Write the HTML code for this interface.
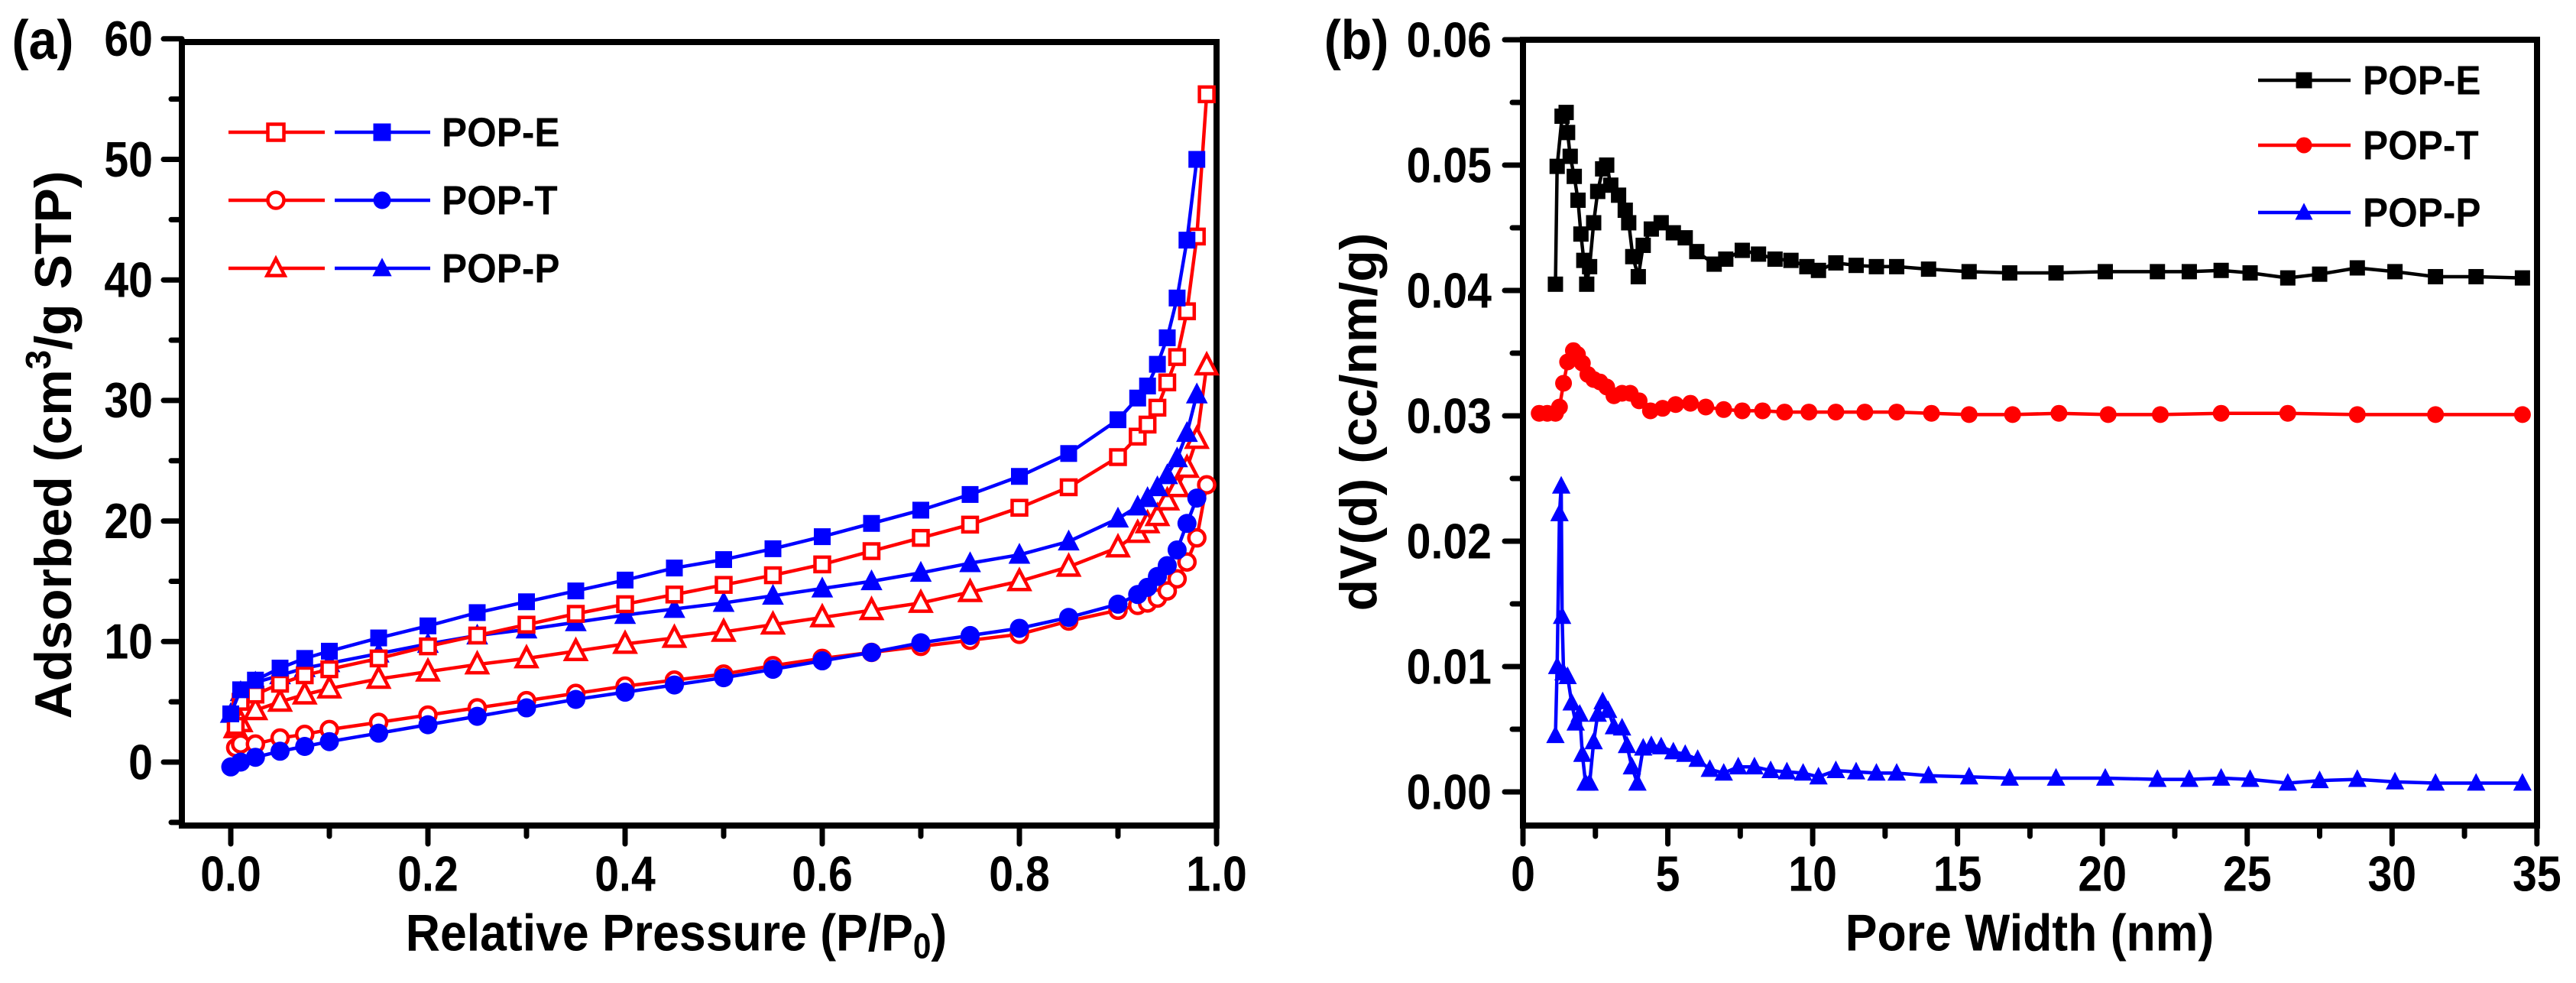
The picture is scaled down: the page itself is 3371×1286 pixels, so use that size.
<!DOCTYPE html>
<html><head><meta charset="utf-8"><style>
html,body{margin:0;padding:0;background:#fff;}
svg{display:block;font-family:"Liberation Sans",Arial,sans-serif;font-weight:bold;}
</style></head><body>
<svg id="fig" width="3371" height="1286" viewBox="0 0 3371 1286" xmlns="http://www.w3.org/2000/svg">
<g id="pa"></g>
<g id="pb"></g>
</svg>
<script>
// ---------- Panel (a) data ----------
const aXads = [0.005,0.01,0.025,0.05,0.075,0.1,0.15,0.2,0.25,0.3,0.35,0.4,0.45,0.5,0.55,0.6,0.65,0.7,0.75,0.8,0.85,0.9,0.92,0.93,0.94,0.95,0.96,0.97,0.98,0.99];
const eAds = [3.0,5.0,5.6,6.5,7.2,7.7,8.6,9.6,10.5,11.4,12.3,13.1,13.9,14.7,15.5,16.4,17.5,18.6,19.7,21.1,22.8,25.3,27.0,28.0,29.4,31.5,33.6,37.4,43.6,55.4];
const tAds = [1.2,1.5,1.5,2.0,2.3,2.7,3.3,3.9,4.5,5.1,5.7,6.3,6.8,7.3,8.0,8.6,9.1,9.6,10.1,10.6,11.7,12.6,13.0,13.2,13.6,14.2,15.2,16.6,18.6,23.0];
const pAds = [2.8,3.3,4.3,5.0,5.6,6.1,6.9,7.5,8.1,8.6,9.2,9.8,10.3,10.8,11.4,12.0,12.6,13.2,14.1,15.0,16.2,17.8,19.0,19.8,20.4,21.7,22.8,24.4,26.8,32.9];
const aXdes = [0.98,0.97,0.96,0.95,0.94,0.93,0.92,0.9,0.85,0.8,0.75,0.7,0.65,0.6,0.55,0.5,0.45,0.4,0.35,0.3,0.25,0.2,0.15,0.1,0.075,0.05,0.025,0.01,0.0];
const eDes = [50.0,43.3,38.5,35.2,33.0,31.2,30.2,28.4,25.6,23.7,22.2,20.9,19.8,18.7,17.7,16.8,16.1,15.1,14.2,13.3,12.4,11.3,10.3,9.2,8.6,7.8,6.8,6.0,4.0];
const tDes = [21.9,19.8,17.6,16.3,15.4,14.5,13.9,13.1,12.0,11.1,10.5,9.9,9.1,8.4,7.7,7.0,6.4,5.8,5.2,4.5,3.8,3.1,2.4,1.7,1.3,0.9,0.4,0.0,-0.4];
const pDes = [30.5,27.3,25.2,23.8,22.8,21.9,21.2,20.2,18.3,17.2,16.5,15.7,15.0,14.4,13.8,13.2,12.7,12.2,11.6,11.0,10.5,9.8,9.0,8.2,7.8,7.2,6.6,5.8,4.0];
const aXTicks = ["0.0","0.2","0.4","0.6","0.8","1.0"];
const aYTicks = ["0","10","20","30","40","50","60"];
// ---------- Panel (b) data ----------
const bEx = [1.12,1.18,1.35,1.49,1.54,1.63,1.77,1.9,2.0,2.1,2.2,2.3,2.44,2.58,2.75,2.89,3.03,3.3,3.53,3.65,3.79,3.98,4.15,4.43,4.77,5.19,5.6,6.0,6.6,7.0,7.57,8.13,8.7,9.25,9.8,10.2,10.8,11.5,12.2,12.9,14.0,15.4,16.8,18.4,20.1,21.9,23.0,24.1,25.1,26.4,27.5,28.8,30.1,31.5,32.9,34.5];
const bEy = [0.0405,0.0499,0.0539,0.0542,0.0526,0.0507,0.0491,0.0472,0.0445,0.0424,0.0405,0.0419,0.0454,0.0479,0.0497,0.0500,0.0484,0.0476,0.0464,0.0454,0.0427,0.0411,0.0436,0.0449,0.0454,0.0446,0.0442,0.0431,0.0421,0.0425,0.0432,0.0429,0.0425,0.0424,0.0419,0.0416,0.0422,0.0420,0.0419,0.0419,0.0417,0.0415,0.0414,0.0414,0.0415,0.0415,0.0415,0.0416,0.0414,0.0410,0.0413,0.0418,0.0415,0.0411,0.0411,0.0410];
const bTx = [0.56,0.84,1.12,1.26,1.4,1.54,1.74,1.88,2.05,2.24,2.44,2.66,2.89,3.14,3.42,3.7,4.01,4.4,4.82,5.27,5.78,6.31,6.93,7.57,8.27,9.03,9.87,10.8,11.8,12.9,14.1,15.4,16.9,18.5,20.2,22.0,24.1,26.4,28.8,31.5,34.5];
const bTy = [0.0302,0.0302,0.0302,0.0307,0.0326,0.0343,0.0352,0.0349,0.0342,0.0333,0.0329,0.0327,0.0323,0.0316,0.0318,0.0318,0.0312,0.0304,0.0306,0.0309,0.0310,0.0307,0.0305,0.0304,0.0304,0.0303,0.0303,0.0303,0.0303,0.0303,0.0302,0.0301,0.0301,0.0302,0.0301,0.0301,0.0302,0.0302,0.0301,0.0301,0.0301];
const bPx = [1.12,1.18,1.26,1.32,1.35,1.4,1.54,1.68,1.82,1.96,2.05,2.16,2.3,2.44,2.58,2.75,2.94,3.14,3.42,3.59,3.76,3.95,4.15,4.43,4.77,5.19,5.6,6.03,6.45,6.93,7.43,7.99,8.55,9.11,9.67,10.2,10.8,11.5,12.2,12.9,14.0,15.4,16.8,18.4,20.1,21.9,23.0,24.1,25.1,26.4,27.5,28.8,30.1,31.5,32.9,34.5];
const bPy = [0.0045,0.0100,0.0222,0.0244,0.0140,0.0095,0.0092,0.0071,0.0055,0.0062,0.0030,0.0007,0.0007,0.0040,0.0062,0.0072,0.0065,0.0052,0.0051,0.0037,0.0020,0.0007,0.0035,0.0037,0.0036,0.0032,0.0030,0.0026,0.0018,0.0015,0.0020,0.0020,0.0017,0.0016,0.0015,0.0012,0.0017,0.0016,0.0015,0.0015,0.0013,0.0012,0.0011,0.0011,0.0011,0.0010,0.0010,0.0011,0.0010,0.0007,0.0009,0.0010,0.0008,0.0007,0.0007,0.0007];
const bXTicks = ["0","5","10","15","20","25","30","35"];
const bYTicks = ["0.00","0.01","0.02","0.03","0.04","0.05","0.06"];

const NS = "http://www.w3.org/2000/svg";
function mk(parent, tag, attrs){
  const e = document.createElementNS(NS, tag);
  for (const k in attrs) e.setAttribute(k, attrs[k]);
  parent.appendChild(e);
  return e;
}
function txt(parent, x, y, s, size, anchor, sx, rot){
  const t = mk(parent, "text", {"font-size": size, "text-anchor": anchor, "dominant-baseline": "central",
    transform: "translate(" + x + "," + y + ")" + (rot ? " rotate(" + rot + ")" : "") + " scale(" + sx + ",1)"});
  t.textContent = s;
  return t;
}
function marker(g, shape, x, y, color, filled, sz){
  const fill = filled ? color : "#fff";
  const sw = 4.5;
  let m;
  if (shape === "sq") {
    m = mk(g, "rect", {x: x - sz/2, y: y - sz/2, width: sz, height: sz, fill: fill, stroke: color, "stroke-width": filled ? 0 : sw});
  } else if (shape === "ci") {
    m = mk(g, "circle", {cx: x, cy: y, r: sz/2, fill: fill, stroke: color, "stroke-width": filled ? 0 : sw});
  } else {
    const h = sz * 1.0;
    m = mk(g, "polygon", {points: (x) + "," + (y - h*0.6) + " " + (x - sz*0.55) + "," + (y + h*0.45) + " " + (x + sz*0.55) + "," + (y + h*0.45),
      fill: fill, stroke: color, "stroke-width": filled ? 0 : sw, "stroke-linejoin": "miter"});
  }
  return m;
}
function series(g, xs, ys, X, Y, color, shape, filled, name, sz){
  const sg = mk(g, "g", {});
  
  
  let d = "";
  for (let i = 0; i < xs.length; i++) d += (i ? "L" : "M") + X(xs[i]).toFixed(1) + "," + Y(ys[i]).toFixed(1);
  mk(sg, "path", {d: d, fill: "none", stroke: color, "stroke-width": 4.5, "stroke-linejoin": "round"});
  for (let i = 0; i < xs.length; i++) marker(sg, shape, X(xs[i]), Y(ys[i]), color, filled, sz);
}
function frame(g, L, R, T, B){
  mk(g, "rect", {x: L, y: T, width: R - L, height: B - T, fill: "none", stroke: "#000", "stroke-width": 8});
}

// ---------- Panel a ----------
(function(){
  const g = document.getElementById("pa");
  const L = 238, R = 1592, T = 55, B = 1080;
  const X = v => 302 + v * 1290;
  const Y = v => 997 - v * 15.77;
  const ax = mk(g, "g", {});
  
  
  // ticks
  for (let i = 0; i < aXTicks.length; i++) {
    const v = parseFloat(aXTicks[i]);
    mk(ax, "line", {x1: X(v), x2: X(v), y1: B, y2: B + 24, stroke: "#000", "stroke-width": 7, "stroke-linecap": "round"});
    if (i < aXTicks.length - 1) { const m = X(v + 0.1); mk(ax, "line", {x1: m, x2: m, y1: B, y2: B + 14, stroke: "#000", "stroke-width": 7, "stroke-linecap": "round"}); }
    txt(ax, X(v), 1143, aXTicks[i], 65, "middle", 0.88);
  }
  for (let i = 0; i < aYTicks.length; i++) {
    const v = parseFloat(aYTicks[i]);
    mk(ax, "line", {x1: L, x2: L - 24, y1: Y(v), y2: Y(v), stroke: "#000", "stroke-width": 7, "stroke-linecap": "round"});
    const m = Y(v - 5); mk(ax, "line", {x1: L, x2: L - 14, y1: m, y2: m, stroke: "#000", "stroke-width": 7, "stroke-linecap": "round"});
    txt(ax, 200, Y(v), aYTicks[i], 65, "end", 0.88);
  }
  frame(ax, L, R, T, B);
  const xt = txt(ax, 885, 1220, "Relative Pressure (P/P", 68, "middle", 0.92);
  
  const sub = mk(xt, "tspan", {"font-size": 46, dy: 18}); sub.textContent = "0";
  const cl = mk(xt, "tspan", {dy: -18}); cl.textContent = ")";
  const yt = txt(ax, 70, 582, "Adsorbed (cm", 68, "middle", 1, -90);
  
  const sup = mk(yt, "tspan", {"font-size": 46, dy: -20}); sup.textContent = "3";
  const r2 = mk(yt, "tspan", {dy: 20}); r2.textContent = "/g STP)";
  const lab = txt(g, 56, 52, "(a)", 72, "middle", 0.92);
  
  // series
  series(g, aXads, pAds, X, Y, "#ff0000", "tr", false, "pop-p-adsorption", 24);
  series(g, aXdes, pDes, X, Y, "#0000ff", "tr", true, "pop-p-desorption", 26);
  series(g, aXads, tAds, X, Y, "#ff0000", "ci", false, "pop-t-adsorption", 21);
  series(g, aXdes, tDes, X, Y, "#0000ff", "ci", true, "pop-t-desorption", 25);
  series(g, aXads, eAds, X, Y, "#ff0000", "sq", false, "pop-e-adsorption", 19);
  series(g, aXdes, eDes, X, Y, "#0000ff", "sq", true, "pop-e-desorption", 22);
  // legend
  const names = ["POP-E","POP-T","POP-P"], shapes = ["sq","ci","tr"], ys = [173, 262, 351];
  const lg = mk(g, "g", {});
  
  
  for (let i = 0; i < 3; i++) {
    mk(lg, "line", {x1: 299, x2: 425, y1: ys[i], y2: ys[i], stroke: "#ff0000", "stroke-width": 4.5});
    marker(lg, shapes[i], 361, ys[i], "#ff0000", false, 21);
    mk(lg, "line", {x1: 438, x2: 563, y1: ys[i], y2: ys[i], stroke: "#0000ff", "stroke-width": 4.5});
    marker(lg, shapes[i], 500, ys[i], "#0000ff", true, 23);
    const t = txt(lg, 578, ys[i], names[i], 54, "start", 0.92);
    
  }
})();

// ---------- Panel b ----------
(function(){
  const g = document.getElementById("pb");
  const L = 1993, R = 3320, T = 52, B = 1080;
  const X = v => L + v * 37.91;
  const Y = v => 1036 - v * 16400;
  const ax = mk(g, "g", {});
  
  
  for (let i = 0; i < bXTicks.length; i++) {
    const v = parseFloat(bXTicks[i]);
    mk(ax, "line", {x1: X(v), x2: X(v), y1: B, y2: B + 24, stroke: "#000", "stroke-width": 7, "stroke-linecap": "round"});
    if (i < bXTicks.length - 1) { const m = X(v + 2.5); mk(ax, "line", {x1: m, x2: m, y1: B, y2: B + 14, stroke: "#000", "stroke-width": 7, "stroke-linecap": "round"}); }
    txt(ax, X(v), 1143, bXTicks[i], 65, "middle", 0.88);
  }
  for (let i = 0; i < bYTicks.length; i++) {
    const v = parseFloat(bYTicks[i]);
    mk(ax, "line", {x1: L, x2: L - 24, y1: Y(v), y2: Y(v), stroke: "#000", "stroke-width": 7, "stroke-linecap": "round"});
    if (i < bYTicks.length - 1) { const m = Y(v + 0.005); mk(ax, "line", {x1: L, x2: L - 14, y1: m, y2: m, stroke: "#000", "stroke-width": 7, "stroke-linecap": "round"}); }
    txt(ax, 1952, Y(v), bYTicks[i], 65, "end", 0.88);
  }
  frame(ax, L, R, T, B);
  const xt = txt(ax, 2656, 1220, "Pore Width (nm)", 68, "middle", 0.92);
  
  const yt = txt(ax, 1778, 552, "dV(d) (cc/nm/g)", 68, "middle", 1, -90);
  
  const lab = txt(g, 1775, 52, "(b)", 72, "middle", 0.92);
  
  series(g, bEx, bEy, X, Y, "#000000", "sq", true, "pop-e-psd", 20);
  series(g, bTx, bTy, X, Y, "#ff0000", "ci", true, "pop-t-psd", 22);
  series(g, bPx, bPy, X, Y, "#0000ff", "tr", true, "pop-p-psd", 22);
  const names = ["POP-E","POP-T","POP-P"], shapes = ["sq","ci","tr"], cols = ["#000000","#ff0000","#0000ff"], ys = [105, 190, 278];
  const lg = mk(g, "g", {});
  
  
  for (let i = 0; i < 3; i++) {
    mk(lg, "line", {x1: 2955, x2: 3076, y1: ys[i], y2: ys[i], stroke: cols[i], "stroke-width": 4.5});
    marker(lg, shapes[i], 3015, ys[i], cols[i], true, 21);
    const t = txt(lg, 3092, ys[i], names[i], 54, "start", 0.92);
    
  }
})();
</script>
</body></html>
